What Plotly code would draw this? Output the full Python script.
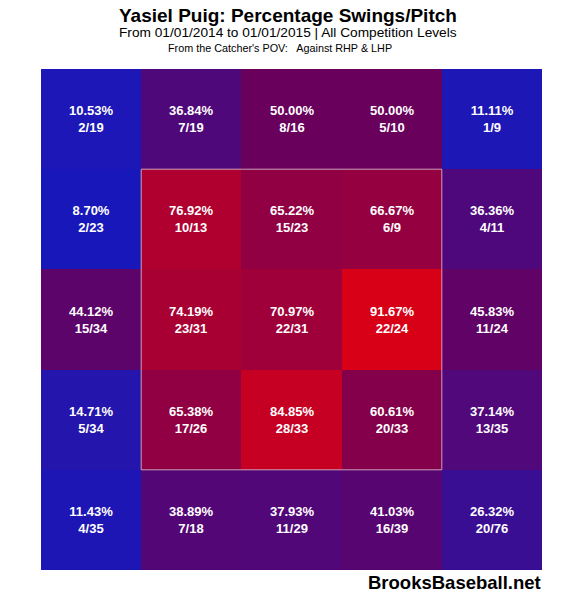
import plotly.graph_objects as go

# Swings / pitches per zone, rows top to bottom, columns left to right (catcher's POV)
swings = [
    [2, 7, 8, 5, 1],
    [2, 10, 15, 6, 4],
    [15, 23, 22, 22, 11],
    [5, 17, 28, 20, 13],
    [4, 7, 11, 16, 20],
]
pitches = [
    [19, 19, 16, 10, 9],
    [23, 13, 23, 9, 11],
    [34, 31, 31, 24, 24],
    [34, 26, 33, 33, 35],
    [35, 18, 29, 39, 76],
]

pct = [[s / p * 100 for s, p in zip(rs, rp)] for rs, rp in zip(swings, pitches)]
labels = [
    [f"<b>{v:.2f}%<br>{s}/{p}</b>" for v, s, p in zip(rv, rs, rp)]
    for rv, rs, rp in zip(pct, swings, pitches)
]

fig = go.Figure(go.Heatmap(
    z=pct,
    x=[0, 1, 2, 3, 4],
    y=[0, 1, 2, 3, 4],
    text=labels,
    texttemplate="%{text}",
    textfont=dict(family="Liberation Sans", size=13, color="white"),
    zmin=8.7,
    zmax=91.67,
    colorscale=[
        [0.0, "rgb(24,24,186)"],
        [0.5, "rgb(105,0,92)"],
        [1.0, "rgb(215,0,22)"],
    ],
    showscale=False,
    hoverinfo="skip",
))

# strike zone
fig.add_shape(type="rect", x0=0.5, x1=3.5, y0=0.5, y1=3.5,
              line=dict(color="rgb(200,160,185)", width=1))

fig.update_xaxes(visible=False, range=[-0.5, 4.5])
fig.update_yaxes(visible=False, range=[4.5, -0.5])

# page body adds 8px, so everything is laid out 8px up/left
fig.add_annotation(text="<b>Yasiel Puig: Percentage Swings/Pitch</b>",
                   x=0.493, y=1.106, xref="paper", yref="paper", showarrow=False,
                   yanchor="middle", font=dict(size=19, color="black"))
fig.add_annotation(text="From 01/01/2014 to 01/01/2015 | All Competition Levels",
                   x=0.493, y=1.072, xref="paper", yref="paper", showarrow=False,
                   yanchor="middle", font=dict(size=13.7, color="black"))
fig.add_annotation(text="From the Catcher's POV:   Against RHP & LHP",
                   x=0.477, y=1.042, xref="paper", yref="paper", showarrow=False,
                   yanchor="middle", font=dict(size=10.8, color="black"))
fig.add_annotation(text="<b>BrooksBaseball.net</b>",
                   x=1.002, y=-0.024, xref="paper", yref="paper", showarrow=False,
                   xanchor="right", yanchor="middle",
                   font=dict(size=18.5, color="black"))

fig.update_layout(
    width=560, height=584,
    margin=dict(l=33, r=26, t=61, b=22),
    font=dict(family="Liberation Sans"),
    plot_bgcolor="white",
    paper_bgcolor="white",
)

fig.write_html("out.html")
